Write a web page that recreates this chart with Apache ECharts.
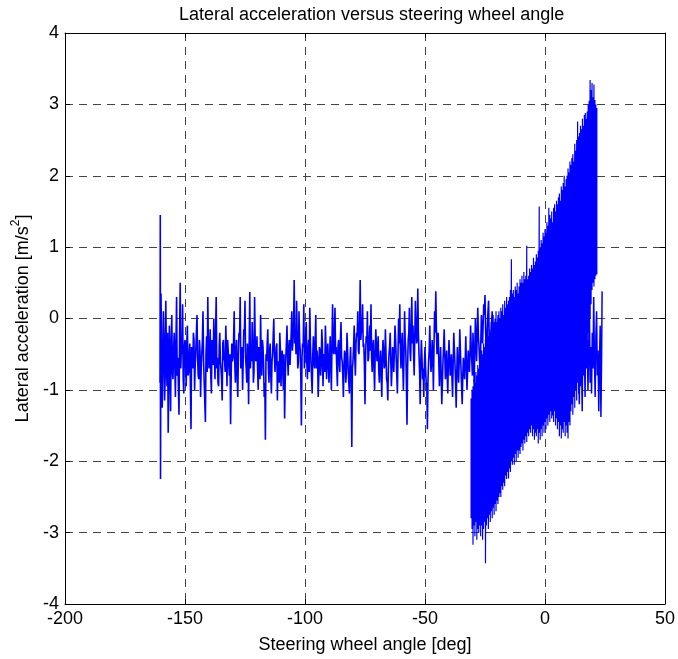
<!DOCTYPE html>
<html><head><meta charset="utf-8">
<script src="https://cdn.jsdelivr.net/npm/echarts@6/dist/echarts.min.js"></script>
<style>html,body{margin:0;padding:0;background:#fff}#c{width:678px;height:659px}</style>
</head><body><div id="c"></div>
<script>
// Axis ranges / ticks
const xMin = -200, xMax = 50, xStep = 50;
const yMin = -4, yMax = 4, yStep = 1;
const titleText = 'Lateral acceleration versus steering wheel angle';
const xName = 'Steering wheel angle [deg]';
const yNameMain = 'Lateral acceleration [m/s';
const yNameSup = '2';
const yNameEnd = ']';

// Segment 1: slow steering sweep with noisy lateral acceleration (samples A)
const seg1X = [-160.4,-160.3,-160.2,
-160,-159.5,-159,-158.5,-158,-157.5,-157,-156.5,-156,-155.5,-155,-154.5,-154,-153.5,-153,-152.5,-152,-151.5,-151,-150.5,
-150,-149.5,-149,-148.5,-148,-147.5,-147,-146.5,-146,-145.5,-145,-144.5,-144,-143.5,-143,-142.5,-142,-141.5,-141,-140.5,
-140,-139.5,-139,-138.5,-138,-137.5,-137,-136.5,-136,-135.5,-135,-134.5,-134,-133.5,-133,-132.5,-132,-131.5,-131,-130.5,
-130,-129.5,-129,-128.5,-128,-127.5,-127,-126.5,-126,-125.5,-125,-124.5,-124,-123.5,-123,-122.5,-122,-121.5,-121,-120.5,
-120,-119.5,-119,-118.5,-118,-117.5,-117,-116.5,-116,-115.5,-115,-114.5,-114,-113.5,-113,-112.5,-112,-111.5,-111,-110.5,
-110,-109.5,-109,-108.5,-108,-107.5,-107,-106.5,-106,-105.5,-105,-104.5,-104,-103.5,-103,-102.5,-102,-101.5,-101,-100.5,
-100,-99.5,-99,-98.5,-98,-97.5,-97,-96.5,-96,-95.5,-95,-94.5,-94,-93.5,-93,-92.5,-92,-91.5,-91,-90.5,
-90,-89.5,-89,-88.5,-88,-87.5,-87,-86.5,-86,-85.5,-85,-84.5,-84,-83.5,-83,-82.5,-82,-81.5,-81,-80.5,
-80,-79.5,-79,-78.5,-78,-77.5,-77,-76.5,-76,-75.5,-75,-74.5,-74,-73.5,-73,-72.5,-72,-71.5,-71,-70.5,
-70,-69.5,-69,-68.5,-68,-67.5,-67,-66.5,-66,-65.5,-65,-64.5,-64,-63.5,-63,-62.5,-62,-61.5,-61,-60.5,
-60,-59.5,-59,-58.5,-58,-57.5,-57,-56.5,-56,-55.5,-55,-54.5,-54,-53.5,-53,-52.5,-52,-51.5,-51,-50.5,
-50,-49.5,-49,-48.5,-48,-47.5,-47,-46.5,-46,-45.5,-45,-44.5,-44,-43.5,-43,-42.5,-42,-41.5,-41,-40.5,
-40,-39.5,-39,-38.5,-38,-37.5,-37,-36.5,-36,-35.5,-35,-34.5,-34,-33.5,-33,-32.5,-32,-31.5,-31,-30.5,
-30,-29.5,-29,-28.5,-28,-27.5,-27,-26.5,-26,-25.5,-25,-24.5,-24,-23.5,-23,-22.5,-22,-21.5,-21,-20.5,
-20,-19.5,-19,-18.5,-18,-17.5,-17,-16.5,-16,-15.5,-15,-14.5,-14,-13.5,-13,-12.5,-12,-11.5,-11,-10.5];
const seg1Y = [-0.9,1.45,-2.25,
0.35,-1.25,0.1,-1.15,0.25,-0.95,-1.6,-0.1,-1.3,0.05,-0.85,-0.2,-1.1,0.3,-0.55,-1.35,0.5,-0.4,0.2,-1.05,
-0.3,-0.95,-0.1,-0.75,-0.35,-1.55,-0.6,-0.2,-1.0,-0.45,0.05,-0.8,-0.3,-1.1,-0.5,0.1,-0.9,-1.45,-0.25,0.3,
-0.7,-0.15,-1.05,-0.4,0.0,-0.85,0.3,-0.55,-0.95,-0.2,-0.7,-1.15,-0.3,-0.6,-0.1,-0.95,-0.45,-0.8,-1.48,-0.35,
-0.55,0.1,-0.9,-0.3,-1.1,-0.2,0.3,-0.6,-1.0,-0.15,0.25,-0.7,-0.35,-1.2,0.37,-0.45,-0.05,-0.9,0.3,-0.6,
-0.25,-1.0,-0.5,0.05,-0.8,-0.4,-1.1,-1.7,-0.6,-0.15,-0.9,-0.35,-1.05,-0.5,0.0,-0.75,-0.4,-1.15,-0.6,-0.2,
-0.95,-0.45,-1.0,-1.4,-0.55,-0.1,-0.8,-0.3,-0.65,0.1,-0.3,0.54,-0.2,0.25,-0.7,0.1,-0.45,-1.5,-0.35,0.2,
-0.5,-0.05,-0.85,-0.3,0.15,-0.6,-1.05,-0.25,-0.7,0.05,-0.45,-1.1,-0.4,-0.8,-0.15,-0.95,-0.5,-0.1,-0.85,-0.35,
-0.9,-0.25,-1.0,0.2,-0.5,0.15,-0.4,-0.95,-0.3,-0.75,-0.05,-0.6,-1.1,-0.45,-0.9,-0.2,-0.7,-1.05,-0.4,-1.8,
-0.6,-0.1,-0.8,-0.2,0.1,-0.5,0.54,-0.15,0.2,-0.35,-1.2,-0.25,0.1,-0.55,-0.1,0.2,-0.75,-0.3,-1.0,-0.15,
-0.6,-0.25,-0.9,-0.45,-1.1,-0.3,-0.7,-0.15,-0.85,-1.15,-0.5,-0.2,-0.95,-0.4,-0.75,-0.1,-0.55,-1.05,0.0,0.2,
-0.7,-0.2,-1.0,0.1,-0.45,-1.49,-0.3,0.15,-0.6,0.3,-0.1,-0.8,0.25,-0.35,0.42,-0.5,-1.2,-0.3,-0.85,-1.1,
-0.4,-0.9,-1.55,-0.6,-0.1,-0.75,-0.3,-1.0,0.1,0.38,-0.5,-0.2,-0.95,-0.4,-1.2,-0.6,-0.15,-0.85,-0.45,-1.05,
-0.3,-0.8,-0.5,-1.1,-0.2,-0.65,-1.25,-0.4,-0.9,-0.15,-0.7,-1.2,-0.55,-0.85,-0.25,-1.0,-0.45,-0.75,-0.1,-0.6,
-0.2,-0.9,0.0,-0.6,0.15,-0.4,-0.8,0.05,-0.35,0.2,0.33,-0.5,-0.1,0.25,-0.6,-0.2,0.1,-0.45,-0.05,-0.7,
-0.3,0.0,-0.55,-0.15,-0.8,-0.25,0.05,-0.5,-0.2,-0.65,-0.35,0.0,-0.55,-0.1,-0.4,-0.75,-0.2,-0.5,-0.3,-0.6];

// Segment 1 in-between samples (B)
const seg1MidX = [
-159.75,-159.25,-158.75,-158.25,-157.75,-157.25,-156.75,-156.25,-155.75,-155.25,-154.75,-154.25,-153.75,-153.25,-152.75,-152.25,-151.75,-151.25,-150.75,-150.25,
-149.75,-149.25,-148.75,-148.25,-147.75,-147.25,-146.75,-146.25,-145.75,-145.25,-144.75,-144.25,-143.75,-143.25,-142.75,-142.25,-141.75,-141.25,-140.75,-140.25,
-139.75,-139.25,-138.75,-138.25,-137.75,-137.25,-136.75,-136.25,-135.75,-135.25,-134.75,-134.25,-133.75,-133.25,-132.75,-132.25,-131.75,-131.25,-130.75,-130.25,
-129.75,-129.25,-128.75,-128.25,-127.75,-127.25,-126.75,-126.25,-125.75,-125.25,-124.75,-124.25,-123.75,-123.25,-122.75,-122.25,-121.75,-121.25,-120.75,-120.25,
-119.75,-119.25,-118.75,-118.25,-117.75,-117.25,-116.75,-116.25,-115.75,-115.25,-114.75,-114.25,-113.75,-113.25,-112.75,-112.25,-111.75,-111.25,-110.75,-110.25,
-109.75,-109.25,-108.75,-108.25,-107.75,-107.25,-106.75,-106.25,-105.75,-105.25,-104.75,-104.25,-103.75,-103.25,-102.75,-102.25,-101.75,-101.25,-100.75,-100.25,
-99.75,-99.25,-98.75,-98.25,-97.75,-97.25,-96.75,-96.25,-95.75,-95.25,-94.75,-94.25,-93.75,-93.25,-92.75,-92.25,-91.75,-91.25,-90.75,-90.25,
-89.75,-89.25,-88.75,-88.25,-87.75,-87.25,-86.75,-86.25,-85.75,-85.25,-84.75,-84.25,-83.75,-83.25,-82.75,-82.25,-81.75,-81.25,-80.75,-80.25,
-79.75,-79.25,-78.75,-78.25,-77.75,-77.25,-76.75,-76.25,-75.75,-75.25,-74.75,-74.25,-73.75,-73.25,-72.75,-72.25,-71.75,-71.25,-70.75,-70.25,
-69.75,-69.25,-68.75,-68.25,-67.75,-67.25,-66.75,-66.25,-65.75,-65.25,-64.75,-64.25,-63.75,-63.25,-62.75,-62.25,-61.75,-61.25,-60.75,-60.25,
-59.75,-59.25,-58.75,-58.25,-57.75,-57.25,-56.75,-56.25,-55.75,-55.25,-54.75,-54.25,-53.75,-53.25,-52.75,-52.25,-51.75,-51.25,-50.75,-50.25,
-49.75,-49.25,-48.75,-48.25,-47.75,-47.25,-46.75,-46.25,-45.75,-45.25,-44.75,-44.25,-43.75,-43.25,-42.75,-42.25,-41.75,-41.25,-40.75,-40.25,
-39.75,-39.25,-38.75,-38.25,-37.75,-37.25,-36.75,-36.25,-35.75,-35.25,-34.75,-34.25,-33.75,-33.25,-32.75,-32.25,-31.75,-31.25,-30.75,-30.25,
-29.75,-29.25,-28.75,-28.25,-27.75,-27.25,-26.75,-26.25,-25.75,-25.25,-24.75,-24.25,-23.75,-23.25,-22.75,-22.25,-21.75,-21.25,-20.75,-20.25,
-19.75,-19.25,-18.75,-18.25,-17.75,-17.25,-16.75,-16.25,-15.75,-15.25,-14.75,-14.25,-13.75,-13.25,-12.75,-12.25,-11.75,-11.25,-10.75,-10.25];
const seg1MidY = [
-0.4,-0.7,-0.3,-0.8,-0.5,-0.2,-0.9,-0.6,-0.35,-0.75,-0.45,-0.65,-0.3,-0.8,-0.55,-0.25,-0.7,-0.5,-0.85,-0.4,
-0.6,-0.35,-0.8,-0.5,-0.95,-0.4,-0.7,-0.3,-0.65,-0.2,-0.55,-0.85,-0.45,-0.7,-0.3,-0.6,-0.9,-0.5,-0.75,-0.4,
-0.45,-0.8,-0.3,-0.65,-0.5,-0.2,-0.7,-0.9,-0.4,-0.6,-0.85,-0.35,-0.55,-0.75,-0.45,-0.3,-0.65,-0.5,-0.8,-0.6,
-0.3,-0.65,-0.45,-0.85,-0.5,-0.25,-0.7,-0.4,-0.6,-0.2,-0.55,-0.9,-0.5,-0.35,-0.7,-0.6,-0.4,-0.75,-0.3,-0.5,
-0.7,-0.4,-0.85,-0.55,-0.3,-0.65,-0.9,-0.5,-0.35,-0.7,-0.45,-0.8,-0.6,-0.25,-0.5,-0.75,-0.35,-0.6,-0.9,-0.45,
-0.6,-0.75,-0.5,-0.9,-0.35,-0.55,-0.4,-0.65,-0.2,-0.45,-0.1,-0.35,-0.5,-0.25,-0.6,-0.3,-0.8,-0.55,-0.4,-0.7,
-0.3,-0.6,-0.45,-0.75,-0.35,-0.85,-0.5,-0.6,-0.3,-0.7,-0.55,-0.8,-0.45,-0.65,-0.35,-0.6,-0.75,-0.4,-0.55,-0.65,
-0.55,-0.7,-0.35,-0.45,-0.2,-0.5,-0.7,-0.4,-0.6,-0.3,-0.55,-0.8,-0.65,-0.5,-0.75,-0.45,-0.9,-0.6,-0.85,-0.7,
-0.4,-0.55,-0.35,-0.25,-0.45,-0.1,-0.3,-0.2,-0.4,-0.65,-0.5,-0.35,-0.6,-0.3,-0.45,-0.55,-0.4,-0.7,-0.5,-0.35,
-0.5,-0.75,-0.6,-0.8,-0.55,-0.45,-0.65,-0.5,-0.9,-0.7,-0.4,-0.6,-0.7,-0.5,-0.45,-0.3,-0.8,-0.5,-0.35,-0.45,
-0.4,-0.65,-0.5,-0.3,-0.9,-0.7,-0.2,-0.45,-0.15,-0.35,-0.5,-0.25,-0.1,-0.3,-0.2,-0.75,-0.6,-0.55,-0.7,-0.65,
-0.7,-0.95,-0.85,-0.45,-0.5,-0.6,-0.55,-0.4,-0.2,-0.15,-0.35,-0.6,-0.7,-0.8,-0.9,-0.4,-0.5,-0.7,-0.8,-0.6,
-0.55,-0.65,-0.85,-0.6,-0.45,-0.9,-0.75,-0.7,-0.6,-0.45,-0.95,-0.8,-0.7,-0.6,-0.65,-0.75,-0.6,-0.5,-0.4,-0.8,
-0.55,-0.45,-0.3,-0.2,-0.25,-0.6,-0.35,-0.2,-0.05,0.05,-0.15,-0.35,0.1,-0.3,-0.45,-0.05,-0.25,-0.3,-0.4,-0.35,
-0.15,-0.3,-0.4,-0.5,-0.5,-0.1,-0.25,-0.35,-0.45,-0.5,-0.15,-0.3,-0.35,-0.25,-0.6,-0.5,-0.35,-0.4,-0.45,-0.4];

// Segment 2: fast oscillating steering (dense band) - high and low turning points
const bandX = [-30.8,-30.4,-30.0,-29.6,-29.2,-28.8,-28.4,-28.0,-27.6,-27.2,
-26.8,-26.4,-26.0,-25.6,-25.2,-24.8,-24.4,-24.0,-23.6,-23.2,
-22.8,-22.4,-22.0,-21.6,-21.2,-20.8,-20.4,-20.0,-19.6,-19.2,
-18.8,-18.4,-18.0,-17.6,-17.2,-16.8,-16.4,-16.0,-15.6,-15.2,
-14.8,-14.4,-14.0,-13.6,-13.2,-12.8,-12.4,-12.0,-11.6,-11.2,
-10.8,-10.4,-10.0,-9.6,-9.2,-8.8,-8.4,-8.0,-7.6,-7.2,
-6.8,-6.4,-6.0,-5.6,-5.2,-4.8,-4.4,-4.0,-3.6,-3.2,
-2.8,-2.4,-2.0,-1.6,-1.2,-0.8,-0.4,0.0,0.4,0.8,
1.2,1.6,2.0,2.4,2.8,3.2,3.6,4.0,4.4,4.8,
5.2,5.6,6.0,6.4,6.8,7.2,7.6,8.0,8.4,8.8,
9.2,9.6,10.0,10.4,10.8,11.2,11.6,12.0,12.4,12.8,
13.2,13.6,14.0,14.4,14.8,15.2,15.6,16.0,16.4,16.8,
17.2,17.6,18.0,18.4,18.8,19.2,19.6,20.0,20.4,20.8,
21.2,21.6];
const bandHi = [-1.12,-1.0,-0.95,-0.85,-0.9,-0.75,-0.8,-0.65,-0.7,-0.55,
-0.6,-0.45,-0.5,-0.35,-0.4,-0.3,-0.35,-0.2,-0.25,-0.15,
-0.2,-0.05,-0.1,0.05,-0.05,0.0,0.1,-0.05,0.05,0.1,
0.0,0.15,0.1,0.2,0.05,0.25,0.15,0.3,0.2,0.25,
0.3,0.4,0.83,0.35,0.4,0.3,0.45,0.4,0.5,0.35,
0.45,0.55,0.5,0.6,0.5,0.65,0.55,0.6,1.02,0.55,
0.6,0.7,0.65,0.75,0.7,0.85,0.75,0.8,0.9,0.85,
0.95,1.57,1.0,1.1,1.05,1.2,1.15,1.25,1.2,1.35,
1.3,1.55,1.45,1.4,1.5,1.35,1.55,1.6,1.5,1.65,
1.6,1.7,1.75,1.65,1.85,1.8,1.9,2.0,1.85,1.95,
2.0,2.1,2.05,2.2,2.15,2.25,2.3,2.2,2.45,2.35,
2.5,2.76,2.55,2.6,2.7,2.65,2.8,2.7,2.85,2.88,
2.8,2.9,3.0,3.05,3.34,3.2,3.3,3.1,3.28,3.06,
3.0,2.95];
const bandLo = [-2.8,-2.95,-3.17,-2.9,-3.05,-2.85,-3.1,-2.95,-3.0,-2.9,
-3.05,-2.9,-3.1,-2.95,-2.85,-3.43,-2.9,-2.8,-2.95,-2.75,
-2.85,-2.7,-2.8,-2.65,-2.75,-2.6,-2.7,-2.55,-2.6,-2.5,
-2.45,-2.5,-2.35,-2.4,-2.3,-2.35,-2.2,-2.25,-2.15,-2.24,
-2.1,-2.15,-2.0,-2.05,-1.95,-2.05,-1.9,-2.0,-1.85,-1.95,
-1.85,-1.9,-1.8,-1.75,-1.85,-1.7,-1.75,-1.65,-1.73,-1.6,
-1.65,-1.55,-1.6,-1.5,-1.65,-1.55,-1.7,-1.6,-1.65,-1.55,
-1.75,-1.6,-1.7,-1.55,-1.65,-1.5,-1.6,-1.45,-1.55,-1.4,
-1.5,-1.35,-1.45,-1.3,-1.4,-1.36,-1.45,-1.3,-1.5,-1.4,
-1.55,-1.45,-1.65,-1.5,-1.68,-1.55,-1.6,-1.45,-1.65,-1.5,
-1.6,-1.68,-1.45,-1.5,-1.3,-1.2,-1.35,-1.1,-1.25,-1.0,
-1.15,-0.9,-1.05,-0.8,-0.95,-0.7,-0.85,-0.6,-0.75,-0.5,
-0.4,-0.55,-0.2,-0.35,0.0,0.2,0.4,0.5,0.45,0.55,
0.6,0.62];

// Segment 3: noise after the oscillation at the right end
const seg3X = [14.0,14.3,14.6,14.9,15.2,15.5,15.8,16.1,16.4,16.7,17.0,17.3,17.6,17.9,18.2,18.5,18.8,19.1,19.4,19.7,20.0,20.3,20.6,20.9,21.2,21.5,21.8,22.1,22.4,22.7,23.0,23.3,23.6,23.8];
const seg3Y = [-0.6,-1.2,-0.3,-0.9,-0.5,-1.3,-0.2,-0.8,-0.4,-1.1,0.1,-0.7,-0.3,-1.0,-0.5,0.2,-0.9,-0.4,-1.05,-0.2,-0.7,0.3,-0.55,-1.1,-0.25,0.1,-0.8,-0.45,-1.3,-0.6,-0.1,-1.38,-0.5,0.38];

const FONT = "'Liberation Sans',Arial,sans-serif";
const FS = 18;
const BLUE = '#0000ff';

const seg1 = seg1X.map((x, i) => [x, seg1Y[i]])
  .concat(seg1MidX.map((x, i) => [x, seg1MidY[i]]))
  .sort((p, q) => p[0] - q[0]);
const band = [];
bandX.forEach((x, i) => { band.push([x, bandHi[i]]); band.push([x, bandLo[i]]); });
const seg3 = seg3X.map((x, i) => [x, seg3Y[i]]);

const lineSeries = (data, w) => ({
  type: 'line', data, showSymbol: false, symbol: 'none', silent: true,
  lineStyle: { color: BLUE, width: w }, itemStyle: { color: BLUE },
  animation: false, z: 5
});

const chart = echarts.init(document.getElementById('c'), null, { renderer: 'canvas' });
const axisCommon = {
  axisLine: { show: true, onZero: false, lineStyle: { color: '#000', width: 1 } },
  axisTick: { show: true, inside: true, length: 5, lineStyle: { color: '#000', width: 1 } },
  minorTick: { show: false }
};
const gridLine = { show: true, lineStyle: { color: '#444', width: 1, type: [8, 6] } };
chart.setOption({
  animation: false,
  backgroundColor: '#fff',
  title: {
    text: titleText, left: 174, top: 1,
    textStyle: { fontFamily: FONT, fontSize: FS, fontWeight: 'normal', color: '#000' }
  },
  grid: { left: 65, right: 11, top: 33, bottom: 53, containLabel: false, show: false },
  xAxis: [Object.assign({
    type: 'value', min: xMin, max: xMax, interval: xStep, position: 'bottom',
    name: xName, nameLocation: 'middle', nameGap: 32,
    nameTextStyle: { fontFamily: FONT, fontSize: FS, color: '#000' },
    axisLabel: { fontFamily: FONT, fontSize: FS, color: '#000', margin: 6 },
    splitLine: gridLine
  }, axisCommon), Object.assign({
    type: 'value', min: xMin, max: xMax, interval: xStep, position: 'top',
    axisLabel: { show: false }, splitLine: { show: false }
  }, axisCommon)],
  yAxis: [Object.assign({
    type: 'value', min: yMin, max: yMax, interval: yStep, position: 'left',
    name: '{a|' + yNameMain + '}{s|' + yNameSup + '}{a|' + yNameEnd + '}',
    nameLocation: 'middle', nameGap: 33, nameRotate: 90,
    nameTextStyle: {
      fontFamily: FONT, fontSize: FS, color: '#000',
      rich: {
        a: { fontFamily: FONT, fontSize: FS, color: '#000', lineHeight: 22, verticalAlign: 'bottom' },
        s: { fontFamily: FONT, fontSize: 12, color: '#000', lineHeight: 22, verticalAlign: 'top' }
      }
    },
    axisLabel: { fontFamily: FONT, fontSize: FS, color: '#000', margin: 6 },
    splitLine: gridLine
  }, axisCommon), Object.assign({
    type: 'value', min: yMin, max: yMax, interval: yStep, position: 'right',
    axisLabel: { show: false }, splitLine: { show: false }
  }, axisCommon)],
  series: [lineSeries(seg1, 1.6), lineSeries(band, 1.2), lineSeries(seg3, 1.5)]
});
</script></body></html>
